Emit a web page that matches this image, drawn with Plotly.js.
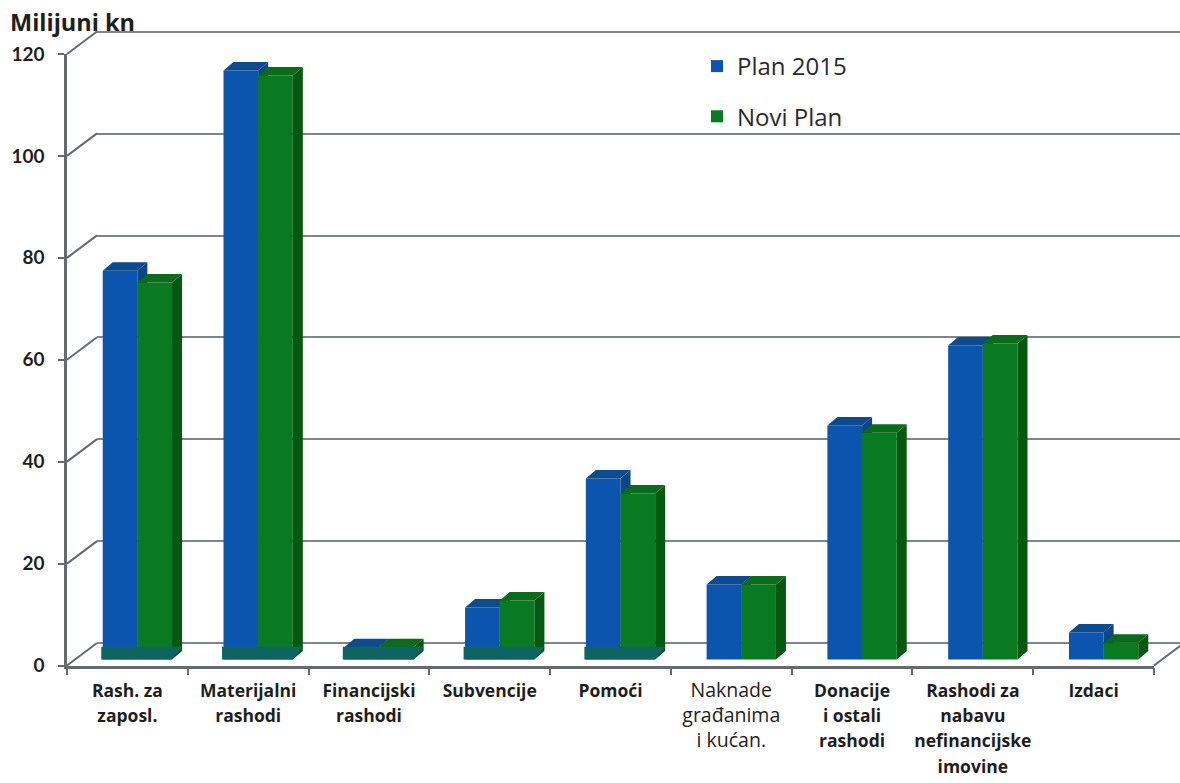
<!DOCTYPE html>
<html>
<head>
<meta charset="utf-8">
<script src="https://cdn.plot.ly/plotly-3.0.1.min.js"></script>
<style>html,body{margin:0;padding:0;background:#fff}#chart{width:1180px;height:783px}</style>
</head>
<body>
<div id="chart"></div>
<script>
// ---- data ----
const categoryLines = [
  [["Rash. za",1],["zaposl.",1]],
  [["Materijalni",1],["rashodi",1]],
  [["Financijski",1],["rashodi",1]],
  [["Subvencije",1]],
  [["Pomoći",1]],
  [["Naknade",0],["građanima",0],["i kućan.",0]],
  [["Donacije",1],["i ostali",1],["rashodi",1]],
  [["Rashodi za",1],["nabavu",1],["nefinancijske",1],["imovine",1]],
  [["Izdaci",1]]
];
const plan2015 = [76.3, 115.6, 2.4, 10.2, 35.5, 14.7, 45.9, 61.6, 5.3];
const noviPlan = [74.0, 114.6, 2.4, 11.6, 32.6, 14.7, 44.5, 62.0, 3.3];
const bandCategories = [0, 1, 2, 3, 4];
const yTicks = [0, 20, 40, 60, 80, 100, 120];

// ---- geometry of the fake 3-D box, in pixels of the 1180x783 page ----
const W = 1180, H = 783;
const frontL = 67, frontR = 1154, frontBottom = 665.5, frontTop = 54;
const wallL = 97, wallBottom = 643, wallTop = 32;
const pxPerCat = (frontR - frontL) / 9;
const pxPerVal = (frontBottom - frontTop) / 120;
const wallPxPerVal = (wallBottom - wallTop) / 120;
const wallPad = 3;                                     // keeps the 0 and 120 grid lines inside the range
const cat0 = frontL + pxPerCat / 2;
const dxBar = 10 / pxPerCat, dyBar = 8.5 / pxPerVal;   // depth of a bar
const barBase = (frontBottom - 659.5) / pxPerVal;      // front foot of the bars
const halfW = 0.287;
const dxWall = (wallL - frontL) / pxPerCat, dyWall = (frontBottom - wallBottom) / pxPerVal;
const bandH = 2.5;

const colors = {
  blue: '#0b55ae', blueTop: '#0e4a8e', blueSide: '#0d4585',
  green: '#0a7a22', greenTop: '#0a6b1a', greenSide: '#04580f',
  band: '#0e6460', axis: '#666a70', wall: '#80848c', text: '#1e1e1e'
};

function poly(list) {
  const x = [], y = [];
  list.forEach(p => { p.forEach(c => { x.push(c[0]); y.push(c[1]); }); x.push(null); y.push(null); });
  return {x, y};
}
function face(list, color, xa, ya) {
  const p = poly(list);
  return {type:'scatter', mode:'lines', x:p.x, y:p.y, xaxis:xa, yaxis:ya, fill:'toself', fillcolor:color,
          line:{width:0, color:color}, hoverinfo:'skip', showlegend:false};
}
function barTrace(name, values, offset, color, xa, ya) {
  return {type:'bar', name:name, legendgroup:name, x:values.map((_, i) => i + dxBar), y:values,
          base:values.map(() => barBase), width:values.map(() => halfW), offset:values.map(() => offset),
          marker:{color:color, line:{width:0}}, xaxis:xa, yaxis:ya, hoverinfo:'x+y'};
}
function tops(values, offset) {
  return values.map((v, i) => {
    const l = i + dxBar + offset, r = l + halfW, t = v + barBase;
    return [[l, t], [r, t], [r + dxBar, t + dyBar], [l + dxBar, t + dyBar]];
  });
}
function sides(values, offset) {
  return values.map((v, i) => {
    const r = i + dxBar + offset + halfW, t = v + barBase;
    return [[r, barBase], [r, t], [r + dxBar, t + dyBar], [r + dxBar, barBase + dyBar]];
  });
}

// tick labels: outer font size sets the line pitch, inner span the glyph size
const labels = categoryLines.map(lines => lines.map(l =>
  l[1] ? '<span style="font-size:17.5px"><b>' + l[0] + '</b></span>'
       : '<span style="font-size:19.5px">' + l[0] + '</span>').join('<br>'));

// connectors between front axis and back wall
const diagX = [], diagY = [];
yTicks.forEach(v => { diagX.push(-0.5, -0.5 + dxWall, null); diagY.push(v, v + dyWall, null); });
diagX.push(8.5, 8.5 + dxWall, null); diagY.push(0, dyWall, null);

const bands = bandCategories.map(i => {
  const l = i + dxBar - halfW - 0.012, r = i + dxBar + halfW;
  return [[l, barBase], [r, barBase], [r + dxBar, barBase + bandH], [l, barBase + bandH]];
});

const traces = [
  {type:'scatter', mode:'markers', x:[0], y:[0], xaxis:'x', yaxis:'y', marker:{opacity:0}, hoverinfo:'skip', showlegend:false},
  {type:'scatter', mode:'markers', x:labels, y:labels.map(() => 0), xaxis:'x2', yaxis:'y2', marker:{opacity:0}, hoverinfo:'skip', showlegend:false},
  {type:'scatter', mode:'lines', x:diagX, y:diagY, xaxis:'x3', yaxis:'y3', line:{color:colors.axis, width:2}, hoverinfo:'skip', showlegend:false},
  barTrace('Plan 2015', plan2015, -halfW, colors.blue, 'x3', 'y3'),
  face(sides(plan2015, -halfW), colors.blueSide, 'x3', 'y3'),
  face(tops(plan2015, -halfW), colors.blueTop, 'x3', 'y3'),
  barTrace('Novi Plan', noviPlan, 0, colors.green, 'x4', 'y4'),
  face(sides(noviPlan, 0), colors.greenSide, 'x4', 'y4'),
  face(tops(noviPlan, 0), colors.greenTop, 'x4', 'y4'),
  face(bands, colors.band, 'x4', 'y4')
];

const canvasX = {visible:false, domain:[0, 1], fixedrange:true, range:[(0 - cat0) / pxPerCat, (W - cat0) / pxPerCat]};
const canvasY = {visible:false, domain:[0, 1], fixedrange:true, range:[(frontBottom - H) / pxPerVal, frontBottom / pxPerVal]};

const layout = {
  width:W, height:H, margin:{l:0, r:0, t:0, b:0, pad:0},
  paper_bgcolor:'#fff', plot_bgcolor:'rgba(0,0,0,0)',
  barmode:'overlay',
  font:{family:'"Open Sans", Lato, sans-serif', color:colors.text},
  showlegend:true,
  legend:{x:697/W, y:1 - 44/H, xanchor:'left', yanchor:'top', bgcolor:'rgba(0,0,0,0)', traceorder:'grouped',
          tracegroupgap:16, font:{size:24, color:'#2a2a2a'}},
  // back wall
  xaxis:{domain:[wallL/W, 1], range:[0, 1], anchor:'y', showgrid:false, zeroline:false, showticklabels:false, ticks:'', fixedrange:true},
  yaxis:{domain:[1 - (wallBottom + wallPad * wallPxPerVal)/H, 1 - (wallTop - wallPad * wallPxPerVal)/H], range:[-wallPad, 120 + wallPad], anchor:'x',
         tick0:0, dtick:20, showgrid:true, gridcolor:colors.wall, gridwidth:2.4,
         zeroline:false, showticklabels:false, ticks:'', fixedrange:true},
  // front axes
  xaxis2:{domain:[frontL/W, frontR/W], anchor:'y2', type:'category', categoryorder:'array', categoryarray:labels, range:[-0.5, 8.5],
          tickson:'boundaries', tickmode:'linear', tick0:0, dtick:1, tickangle:0,
          ticks:'outside', ticklen:7, tickwidth:2, tickcolor:colors.axis, showline:true, linecolor:colors.axis, linewidth:2.5,
          showgrid:false, zeroline:false, tickfont:{size:19.5, color:colors.text}, ticklabelstandoff:5, fixedrange:true},
  yaxis2:{domain:[1 - frontBottom/H, 1 - frontTop/H], anchor:'x2', range:[0, 120], tickmode:'array', tickvals:yTicks, ticktext:yTicks.map(v => '<b>' + v + '</b>'),
          ticks:'outside', ticklen:6, tickwidth:2, tickcolor:colors.axis, showline:true, linecolor:colors.axis, linewidth:2.5,
          showgrid:false, zeroline:false, tickfont:{size:19, color:colors.text, family:'Lato, sans-serif'}, ticklabelstandoff:10, fixedrange:true},
  xaxis3:Object.assign({anchor:'y3'}, canvasX),
  yaxis3:Object.assign({anchor:'x3'}, canvasY),
  xaxis4:Object.assign({anchor:'y4'}, canvasX),
  yaxis4:Object.assign({anchor:'x4'}, canvasY),
  annotations:[{text:'<b>Milijuni kn</b>', xref:'paper', yref:'paper', x:8/W, y:1 - 22/H, xanchor:'left', yanchor:'middle',
                showarrow:false, font:{size:23.5, color:colors.text}}]
};

Plotly.newPlot('chart', traces, layout, {displayModeBar:false, responsive:false});
</script>
</body>
</html>
